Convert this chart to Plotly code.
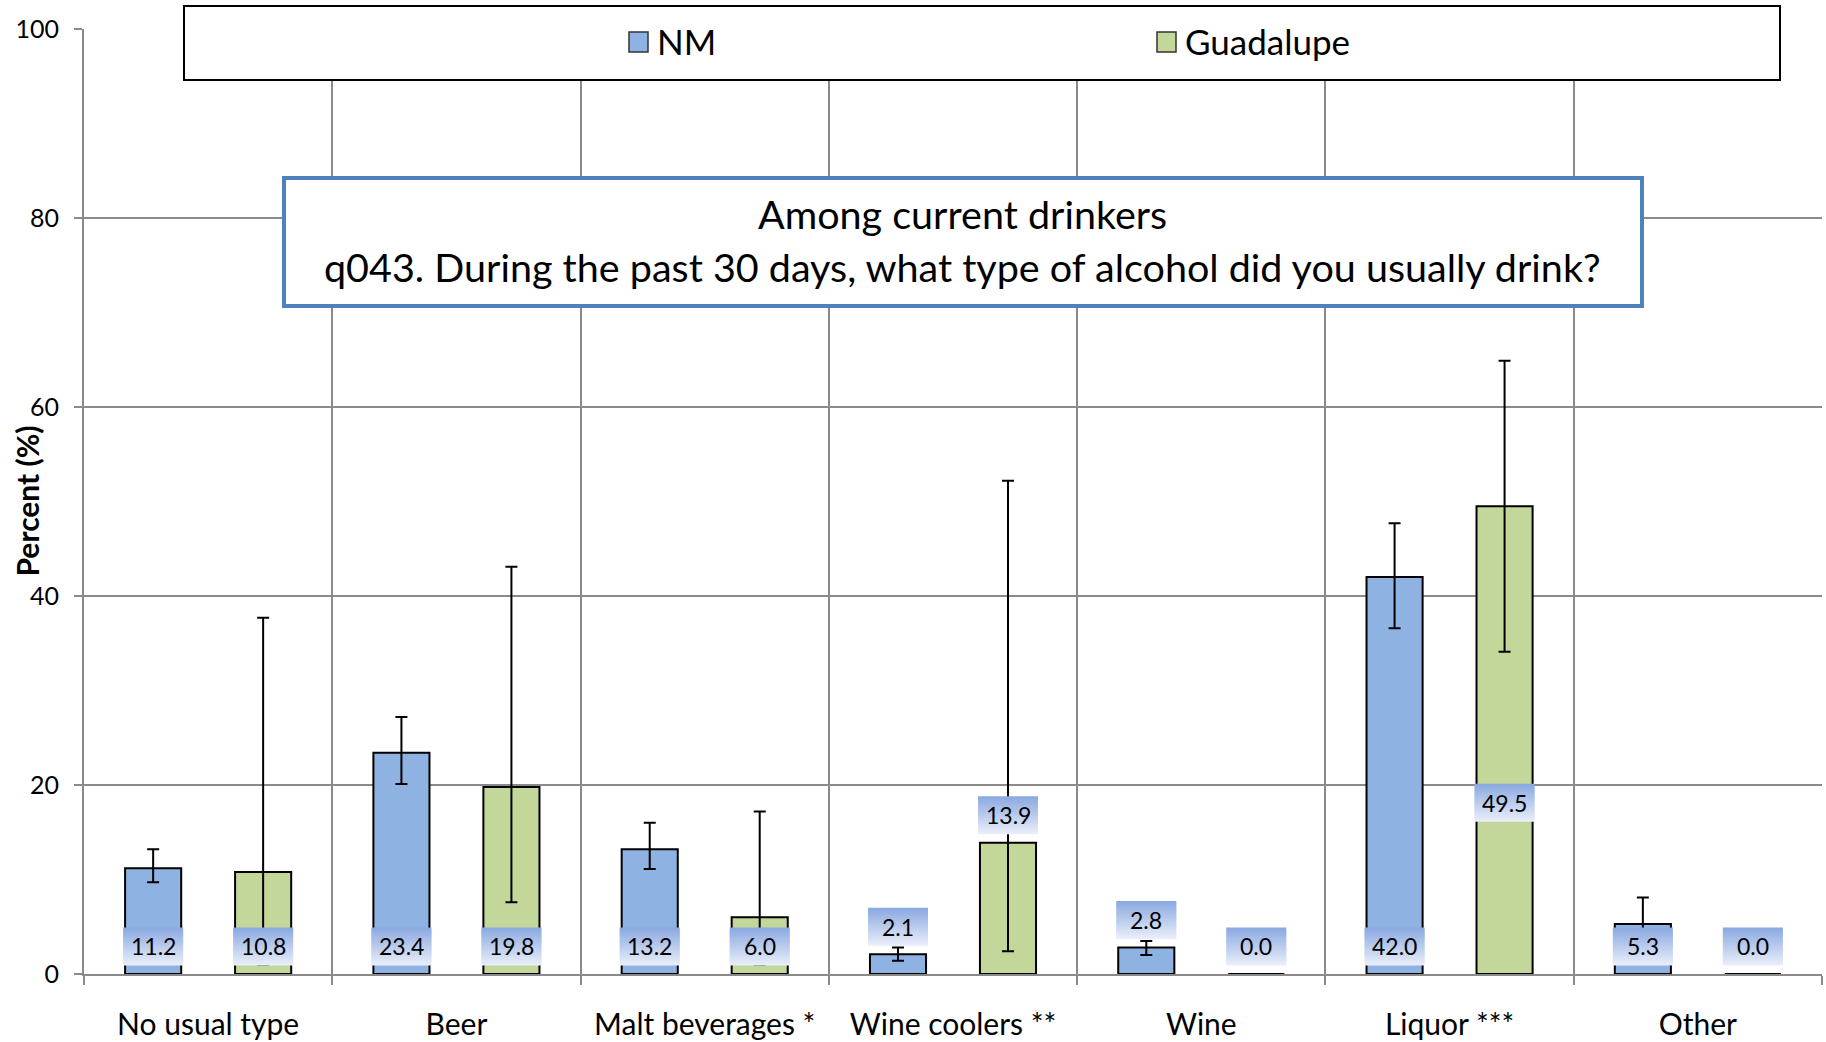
import plotly.graph_objects as go

# ---- data -------------------------------------------------------------
categories = ["No usual type", "Beer", "Malt beverages *", "Wine coolers **",
              "Wine", "Liquor ***", "Other"]
series_names = ["NM", "Guadalupe"]

nm_pct = [11.2, 23.4, 13.2, 2.1, 2.8, 42.0, 5.3]
gu_pct = [10.8, 19.8, 6.0, 13.9, 0.0, 49.5, 0.0]

# 95% confidence limits
nm_ci_low = [9.7, 20.1, 11.1, 1.4, 2.0, 36.6, 2.5]
nm_ci_high = [13.2, 27.2, 16.0, 2.8, 3.5, 47.7, 8.1]
gu_ci_low = [1.0, 7.6, 1.0, 2.4, None, 34.1, None]
gu_ci_high = [37.7, 43.1, 17.2, 52.2, None, 64.9, None]

y_ticks = [0, 20, 40, 60, 80, 100]

title_lines = ["Among current drinkers",
               "q043. During the past 30 days, what type of alcohol did you usually drink?"]
y_title = "Percent (%)"

# ---- styling / geometry -----------------------------------------------
FONT = "Lato"
W, H = 1826, 1042
ML, MR, MT, MB = 84, 4, 29, 68
PW, PH = W - ML - MR, H - MT - MB
GRID = "#8a8a8a"
COLORS = ["#8EB3E2", "#C4D79B"]
BARGAP, GROUPGAP = 0.114, 0.49

# where each value label box sits: "base" = at the bottom of the bar,
# "end" = just above the bar top, a number = box bottom in axis units
label_place = [
    ["base", "base", "base", "end", "end", "base", "base"],
    ["base", "base", "base", "end", "end", 16.1, "end"],
]


def px_x(p):
    return (p - ML) / PW


def px_y(p):
    return (H - MB - p) / PH


def err(vals, lo, hi):
    plus, minus = [], []
    for v, a, b in zip(vals, lo, hi):
        if a is None:
            plus.append(None)
            minus.append(None)
        else:
            plus.append(round(b - v, 3))
            minus.append(round(v - a, 3))
    return plus, minus


fig = go.Figure()
for name, vals, lo, hi, col in [
    (series_names[0], nm_pct, nm_ci_low, nm_ci_high, COLORS[0]),
    (series_names[1], gu_pct, gu_ci_low, gu_ci_high, COLORS[1]),
]:
    plus, minus = err(vals, lo, hi)
    fig.add_trace(go.Bar(
        name=name, x=categories, y=vals,
        marker=dict(color=col, line=dict(color="black", width=2)),
        error_y=dict(type="data", symmetric=False, array=plus, arrayminus=minus,
                     color="black", thickness=2, width=6),
        showlegend=False,
    ))

shapes = []
annotations = []

# value labels with a vertical blue gradient background
slot = (1 - BARGAP) / 2
offsets = [-slot / 2, slot / 2]
units_per_px = 100 / PH
box_half_w = 30 / (PW / len(categories))
box_h = 38 * units_per_px
gap = 0.9
top_rgb, bot_rgb = (140, 170, 225), (232, 237, 249)
N_STRIPS = 19
strip_h = box_h / N_STRIPS
overlap = 1.2 * units_per_px
for s, vals in enumerate([nm_pct, gu_pct]):
    for i, v in enumerate(vals):
        place = label_place[s][i]
        if place == "base":
            bottom = gap
        elif place == "end":
            bottom = v + gap
        else:
            bottom = place
        xc = i + offsets[s]
        for k in range(N_STRIPS):
            t = k / (N_STRIPS - 1)
            r, g, b = [round(top_rgb[j] + (bot_rgb[j] - top_rgb[j]) * t) for j in range(3)]
            y1 = bottom + box_h - k * strip_h
            y0 = max(bottom, y1 - strip_h - overlap)
            shapes.append(dict(type="rect", xref="x", yref="y", layer="above",
                               x0=xc - box_half_w, x1=xc + box_half_w, y0=y0, y1=y1,
                               fillcolor=f"rgb({r},{g},{b})", line=dict(width=0)))
        annotations.append(dict(xref="x", yref="y", x=xc, y=bottom + box_h / 2,
                                text=f"{v:.1f}", showarrow=False,
                                font=dict(family=FONT, size=23, color="black"),
                                xanchor="center", yanchor="middle"))

# legend frame and entries
shapes.append(dict(type="rect", xref="paper", yref="paper", layer="above",
                   x0=px_x(184), x1=px_x(1780), y0=px_y(80), y1=px_y(6),
                   fillcolor="white", line=dict(color="black", width=2)))
legend_x = [629, 1157]
for name, col, lx in zip(series_names, COLORS, legend_x):
    shapes.append(dict(type="rect", xref="paper", yref="paper", layer="above",
                       x0=px_x(lx), x1=px_x(lx + 19), y0=px_y(52), y1=px_y(32),
                       fillcolor=col, line=dict(color="#333333", width=1.5)))
    annotations.append(dict(xref="paper", yref="paper", x=px_x(lx + 26), y=px_y(41),
                            text=name, showarrow=False, xanchor="left", yanchor="middle",
                            font=dict(family=FONT, size=35, color="black")))

# boxed chart title
shapes.append(dict(type="rect", xref="paper", yref="paper", layer="above",
                   x0=px_x(284), x1=px_x(1642), y0=px_y(306), y1=px_y(178),
                   fillcolor="white", line=dict(color="#4F81BD", width=4)))
for line, yc in zip(title_lines, [213, 266]):
    annotations.append(dict(xref="paper", yref="paper", x=px_x(963), y=px_y(yc),
                            text=line, showarrow=False, xanchor="center", yanchor="middle",
                            font=dict(family=FONT, size=39.5, color="black")))

# y-axis title
annotations.append(dict(xref="paper", yref="paper", x=px_x(26), y=0.5,
                        text=f"<b>{y_title}</b>", showarrow=False, textangle=-90,
                        xanchor="center", yanchor="middle",
                        font=dict(family=FONT, size=30, color="black")))

fig.update_layout(
    width=W, height=H,
    margin=dict(l=ML, r=MR, t=MT, b=MB, pad=0, autoexpand=False),
    paper_bgcolor="white", plot_bgcolor="white",
    barmode="group", bargap=BARGAP, bargroupgap=GROUPGAP,
    font=dict(family=FONT, color="black"),
    shapes=shapes, annotations=annotations,
    showlegend=False,
)
fig.update_xaxes(
    type="category", range=[-0.5, len(categories) - 0.5], automargin=False,
    tickson="boundaries", ticks="outside", ticklen=9, tickwidth=2, tickcolor=GRID,
    showgrid=True, gridcolor=GRID, gridwidth=2,
    showline=True, linecolor=GRID, linewidth=2, mirror=False,
    tickfont=dict(family=FONT, size=30, color="black"),
    ticklabelstandoff=23,
)
fig.update_yaxes(
    range=[0, 100], tickmode="array", tickvals=y_ticks, ticktext=[str(t) for t in y_ticks],
    automargin=False,
    ticks="outside", ticklen=8, tickwidth=2, tickcolor=GRID,
    showgrid=True, gridcolor=GRID, gridwidth=2, zeroline=False,
    showline=True, linecolor=GRID, linewidth=2,
    tickfont=dict(family=FONT, size=25, color="black"),
    ticklabelstandoff=10,
)

fig.write_html("out.html")
